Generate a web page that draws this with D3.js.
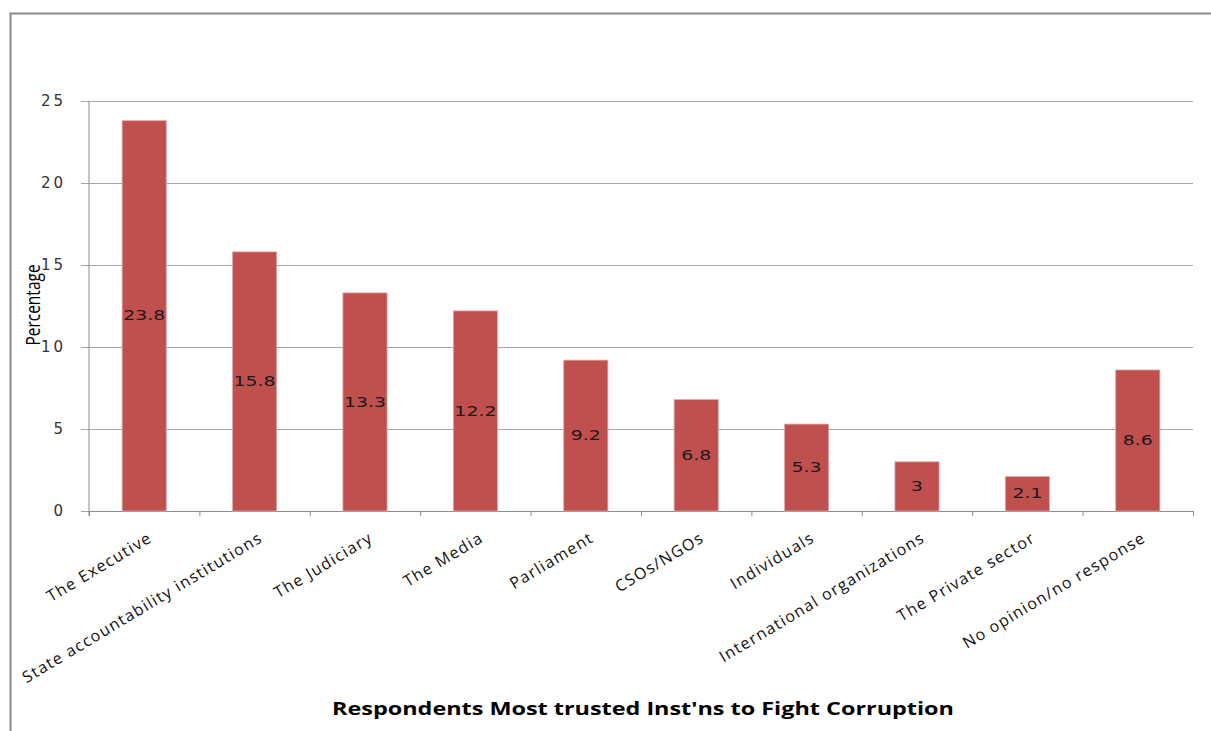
<!DOCTYPE html>
<html>
<head>
<meta charset="utf-8">
<script src="https://cdn.jsdelivr.net/npm/d3@7"></script>
<style>
   body { margin: 0; background: #fff; }
   svg { display: block; }
</style>
</head>
<body>
<div class="chart"></div>
<script>

// chart data
const institutions = [
   'The Executive',
   'State accountability institutions',
   'The Judiciary',
   'The Media',
   'Parliament',
   'CSOs/NGOs',
   'Individuals',
   'International organizations',
   'The Private sector',
   'No opinion/no response'
];
const percentages = [23.8, 15.8, 13.3, 12.2, 9.2, 6.8, 5.3, 3, 2.1, 8.6];
const yTicks = [0, 5, 10, 15, 20, 25];

const width = 1211;
const height = 731;

const svg = d3.select('.chart')
   .append('svg')
   .attr('width', width)
   .attr('height', height);

// frame (left + top edge only visible)
svg.append('path')
   .attr('d', `M10.5,${height} V13.5 H${width}`)
   .attr('fill', 'none')
   .attr('stroke', '#8c8c8c')
   .attr('stroke-width', 2);

const plotLeft = 89, plotRight = 1193, plotTop = 101, plotBottom = 511;

const yScale = d3.scaleLinear()
   .domain([0, 25])
   .range([plotBottom, plotTop]);

const xScale = d3.scaleBand()
   .domain(institutions)
   .range([plotLeft, plotRight])
   .paddingInner(0.6)
   .paddingOuter(0.3);

const edgeScale = d3.scaleLinear()
   .domain([0, institutions.length])
   .range([plotLeft, plotRight]);

const data = institutions.map((d, i) => ({name: d, value: percentages[i]}));

// gridlines + y axis
const yAxis = d3.axisLeft(yScale)
   .tickValues(yTicks)
   .tickSize(-(plotRight - plotLeft))
   .tickPadding(20);

const yG = svg.append('g')
   .attr('transform', `translate(${plotLeft},0)`)
   .call(yAxis);
yG.select('.domain').remove();
yG.selectAll('line')
   .attr('x1', -8)
   .attr('stroke', '#a6a6a6');
yG.selectAll('text')
   .attr('x', -23)
   .style('font-family', 'DejaVu Sans')
   .style('font-size', '15px')
   .style('letter-spacing', '3px')
   .attr('fill', '#333');

svg.append('line')
   .attr('x1', plotLeft).attr('x2', plotLeft)
   .attr('y1', plotTop).attr('y2', plotBottom + 5)
   .attr('stroke', '#8c8c8c');

// boundary ticks on x axis
const edgeAxis = d3.axisBottom(edgeScale)
   .tickValues(d3.range(institutions.length + 1))
   .tickFormat('')
   .tickSize(5)
   .tickSizeOuter(0);

const eG = svg.append('g')
   .attr('transform', `translate(0,${plotBottom})`)
   .call(edgeAxis);
eG.selectAll('path, line').attr('stroke', '#8c8c8c');

// category labels
const xAxis = d3.axisBottom(xScale).tickSize(0);
const xG = svg.append('g')
   .attr('transform', `translate(0,${plotBottom})`)
   .call(xAxis);
xG.select('.domain').remove();
xG.selectAll('text')
   .attr('x', 0).attr('y', 0).attr('dy', 0)
   .attr('text-anchor', 'end')
   .attr('transform', 'translate(9,30) rotate(-31)')
   .style('font-family', 'Open Sans')
   .style('font-size', '16px')
   .style('letter-spacing', '1.3px')
   .attr('fill', '#111');

// bars
svg.selectAll('rect.bar')
   .data(data)
   .enter()
   .append('rect')
      .classed('bar', true)
      .attr('x', d => xScale(d.name))
      .attr('width', xScale.bandwidth())
      .attr('y', d => yScale(d.value))
      .attr('height', d => plotBottom - yScale(d.value))
      .attr('fill', '#c0504d')
      .attr('stroke', '#e3a9a7')
      .attr('stroke-width', 0.8);

// value labels in the middle of each bar
svg.selectAll('text.val')
   .data(data)
   .enter()
   .append('text')
      .classed('val', true)
      .attr('transform', d => `translate(${xScale(d.name) + xScale.bandwidth() / 2}, ${(yScale(d.value) + plotBottom) / 2}) scale(1.35,1)`)
      .attr('text-anchor', 'middle')
      .attr('dominant-baseline', 'central')
      .style('font-family', 'DejaVu Sans')
      .style('font-size', '14px')
      .attr('fill', '#1a1a1a')
      .text(d => d.value);

// axis titles
svg.append('text')
   .attr('transform', 'translate(40,305) scale(1.3,1) rotate(-90)')
   .attr('text-anchor', 'middle')
   .style('font-family', 'Open Sans')
   .style('font-size', '15.5px')
   .attr('fill', '#000')
   .text('Percentage');

svg.append('text')
   .attr('transform', 'translate(643,715) scale(1.3,1)')
   .attr('text-anchor', 'middle')
   .style('font-family', 'Open Sans')
   .style('font-size', '18px')
   .style('font-weight', 'bold')
   .attr('fill', '#000')
   .text("Respondents Most trusted Inst'ns to Fight Corruption");

</script>
</body>
</html>
